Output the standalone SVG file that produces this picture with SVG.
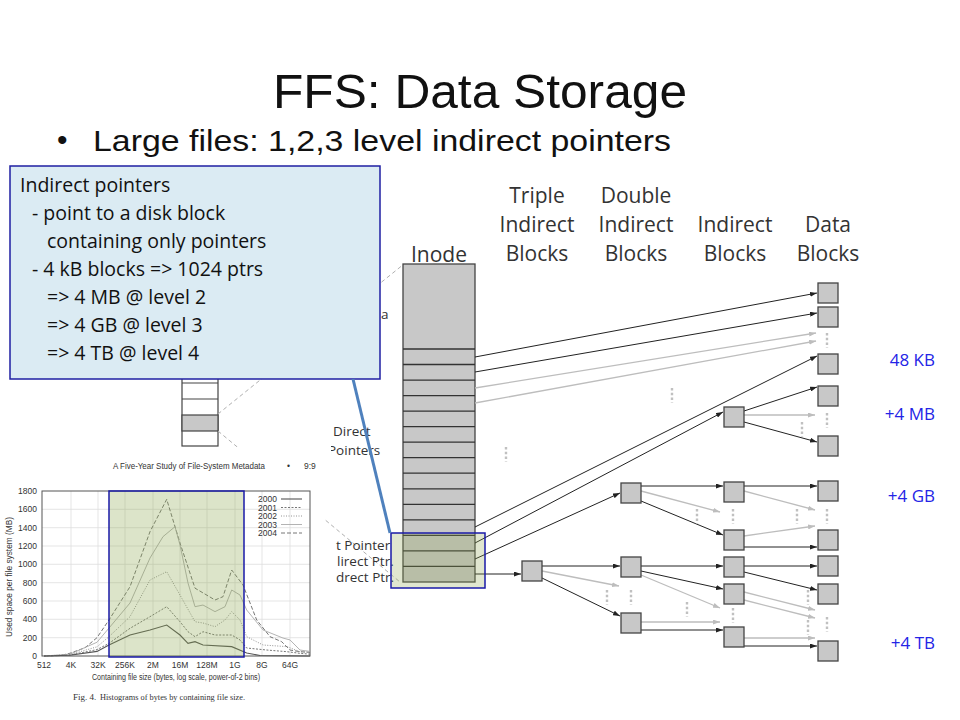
<svg xmlns="http://www.w3.org/2000/svg" width="960" height="720" viewBox="0 0 960 720">
<defs>
<style>
.blk{fill:#c8c8c8;stroke:#444;stroke-width:1.3}
.ab{stroke:#222;stroke-width:1;fill:none;marker-end:url(#mb)}
.ag{stroke:#bdbdbd;stroke-width:1.3;fill:none;marker-end:url(#mg)}
.dots{stroke:#c0c0c0;stroke-width:2.4;stroke-dasharray:2.4 2.4;fill:none}
.hdr{font-family:"Open Sans","DejaVu Sans",sans-serif;font-size:21px;fill:#333;text-anchor:middle}
.lbl{font-family:"Open Sans","DejaVu Sans",sans-serif;font-size:13.5px;fill:#333}
.co{font-family:"Open Sans","DejaVu Sans",sans-serif;font-size:19.5px;fill:#111}
.sz{font-family:"Open Sans","DejaVu Sans",sans-serif;font-size:17px;fill:#2424e6;text-anchor:end}
.ct{font-family:"Liberation Sans",Arial,sans-serif;font-size:8.5px;fill:#333}
.grid{stroke:#dedede;stroke-width:0.8}
.dash{stroke:#b0b0b0;stroke-width:1;stroke-dasharray:4 3;fill:none}
.cv{fill:none;vector-effect:non-scaling-stroke}
</style>
<marker id="mb" viewBox="0 0 7 5" refX="7" refY="2.5" markerWidth="7" markerHeight="5" orient="auto" markerUnits="userSpaceOnUse"><path d="M0,0 L7,2.5 L0,5 z" fill="#222"/></marker>
<marker id="mg" viewBox="0 0 7 5" refX="7" refY="2.5" markerWidth="7" markerHeight="5" orient="auto" markerUnits="userSpaceOnUse"><path d="M0,0 L7,2.5 L0,5 z" fill="#bdbdbd"/></marker>
<clipPath id="lc"><rect x="331" y="280" width="80" height="320"/></clipPath>
</defs>
<rect width="960" height="720" fill="#fff"/>

<g id="title">
<text x="480" y="108" font-family="Liberation Sans, Arial, sans-serif" font-size="48" fill="#111" text-anchor="middle" textLength="414" lengthAdjust="spacingAndGlyphs">FFS: Data Storage</text>
<text x="57" y="150" font-family="Liberation Sans, Arial, sans-serif" font-size="30" fill="#111">•</text>
<text x="93" y="151" font-family="Liberation Sans, Arial, sans-serif" font-size="30" fill="#111" textLength="578" lengthAdjust="spacingAndGlyphs">Large files: 1,2,3 level indirect pointers</text>
</g>

<g id="small-inode">
<rect x="182" y="360" width="36" height="86" fill="#fff" stroke="#444" stroke-width="1.2"/>
<rect x="182" y="415" width="36" height="16" fill="#c8c8c8" stroke="#444" stroke-width="1.2"/>
<path d="M182,383 H218 M182,399 H218" stroke="#444" stroke-width="1.2"/>
<path class="dash" d="M218,414 L404,264"/>
<path class="dash" d="M218,431 L400,582"/>
</g>

<g id="chart">
<rect x="0" y="447" width="325" height="260" fill="#fff"/>
<text class="ct" x="113" y="469" font-size="9.5" textLength="152" lengthAdjust="spacingAndGlyphs">A Five-Year Study of File-System Metadata</text>
<text class="ct" x="287" y="469" font-size="9.5">•</text>
<text class="ct" x="304" y="469" font-size="9.5">9:9</text>
<rect x="42" y="491" width="268" height="165" fill="#fff"/>
<g class="grid">
<path d="M71,491 V656 M98,491 V656 M125,491 V656 M153,491 V656 M180,491 V656 M207,491 V656 M235,491 V656 M262,491 V656 M290,491 V656"/>
<path d="M42,637.7 H310 M42,619.3 H310 M42,601 H310 M42,582.7 H310 M42,564.3 H310 M42,546 H310 M42,527.7 H310 M42,509.3 H310"/>
</g>
<rect x="42" y="491" width="268" height="165" fill="none" stroke="#555" stroke-width="1"/>
<g class="ct" text-anchor="end">
<text x="37" y="659">0</text><text x="37" y="641">200</text><text x="37" y="622">400</text><text x="37" y="604">600</text><text x="37" y="586">800</text><text x="37" y="567">1000</text><text x="37" y="549">1200</text><text x="37" y="531">1400</text><text x="37" y="512">1600</text><text x="37" y="494">1800</text>
</g>
<g class="ct" text-anchor="middle">
<text x="44" y="668">512</text><text x="71" y="668">4K</text><text x="98" y="668">32K</text><text x="125" y="668">256K</text><text x="153" y="668">2M</text><text x="180" y="668">16M</text><text x="207" y="668">128M</text><text x="235" y="668">1G</text><text x="262" y="668">8G</text><text x="290" y="668">64G</text>
</g>
<text class="ct" x="176" y="680" text-anchor="middle" font-size="9" textLength="168" lengthAdjust="spacingAndGlyphs">Containing file size (bytes, log scale, power-of-2 bins)</text>
<text class="ct" transform="translate(12,577) rotate(-90)" text-anchor="middle" textLength="120" lengthAdjust="spacingAndGlyphs">Used space per file system (MB)</text>
<text x="73" y="700" font-family="Liberation Serif, Times New Roman, serif" font-size="9" fill="#333">Fig. 4.</text>
<text x="100" y="700" font-family="Liberation Serif, Times New Roman, serif" font-size="9" fill="#333" textLength="145" lengthAdjust="spacingAndGlyphs">Histograms of bytes by containing file size.</text>
<g transform="translate(0,656) scale(1,-0.09167)">
<polyline class="cv" stroke="#666" stroke-width="0.9" stroke-dasharray="4 2" points="44,0 60,5 70,30 85,90 97,200 109,393 130,756 150,1356 166.7,1709 180,1232 195,740 215,611 223,647 231.7,938 243,775 256.7,393 270,211 281.7,156 290,65 300,47 310,40"/>
<polyline class="cv" stroke="#aaa" stroke-width="0.9" points="44,0 70,20 97,150 109,305 130,578 150,1069 163,1302 175,1411 180,1211 188,796 195,538 203,556 215,484 225,538 231.7,720 240,665 246.7,502 263,284 283,196 290,175 300,65 310,50"/>
<polyline class="cv" stroke="#888" stroke-width="0.9" stroke-dasharray="1 1.5" points="44,0 70,15 97,100 109,211 130,429 150,829 166.7,920 180,665 195,374 203,360 215,320 225,393 231.7,484 240,393 246.7,211 263,120 287,102 300,47 310,40"/>
<polyline class="cv" stroke="#666" stroke-width="0.9" stroke-dasharray="2 1.5" points="44,0 70,10 97,70 109,138 130,302 150,429 166.7,538 180,374 188,265 195,211 203,265 215,229 231.7,229 240,175 246.7,87 267,65 287,47 300,29 310,20"/>
<polyline class="cv" stroke="#555" stroke-width="1.1" points="44,0 70,8 97,50 109,120 130,229 150,284 166.7,338 180,229 188,138 195,156 203,120 231.7,102 246.7,33 260,5 310,0"/>
</g>
<g class="ct" text-anchor="end" font-size="8">
<text x="277" y="502">2000</text><text x="277" y="510.5">2001</text><text x="277" y="519">2002</text><text x="277" y="527.5">2003</text><text x="277" y="536">2004</text>
</g>
<path d="M281,499 H302" stroke="#555" stroke-width="1.1"/>
<path d="M281,507.5 H302" stroke="#666" stroke-width="0.9" stroke-dasharray="2 1.5"/>
<path d="M281,516 H302" stroke="#888" stroke-width="0.9" stroke-dasharray="1 1.5"/>
<path d="M281,524.5 H302" stroke="#aaa" stroke-width="0.9"/>
<path d="M281,533 H302" stroke="#666" stroke-width="0.9" stroke-dasharray="4 2"/>
<rect x="109" y="491" width="135" height="166" fill="#8ca44c" fill-opacity="0.3" stroke="#1a1aa8" stroke-width="1.5"/>
</g>

<g id="side-labels" clip-path="url(#lc)">
<text class="lbl" x="381" y="319">a</text>
<text class="lbl" x="333" y="436">Direct</text>
<text class="lbl" x="328" y="455">Pointers</text>
<text class="lbl" x="336" y="550">t Pointer</text>
<text class="lbl" x="337" y="566">lirect Ptr.</text>
<text class="lbl" x="336" y="582">drect Ptr.</text>
</g>

<g id="callout">
<rect x="10" y="166" width="370" height="213" fill="#dbebf3" stroke="#1f1fa3" stroke-width="1.5"/>
<text class="co" x="20" y="192">Indirect pointers</text>
<text class="co" x="32" y="220">- point to a disk block</text>
<text class="co" x="47" y="248">containing only pointers</text>
<text class="co" x="32" y="276">- 4 kB blocks =&gt; 1024 ptrs</text>
<text class="co" x="47" y="304">=&gt; 4 MB @ level 2</text>
<text class="co" x="47" y="332">=&gt; 4 GB @ level 3</text>
<text class="co" x="47" y="360">=&gt; 4 TB @ level 4</text>
</g>

<g id="headers">
<text class="hdr" x="439" y="262">Inode</text>
<text class="hdr" x="537" y="203">Triple</text>
<text class="hdr" x="537" y="232">Indirect</text>
<text class="hdr" x="537" y="261">Blocks</text>
<text class="hdr" x="636" y="203">Double</text>
<text class="hdr" x="636" y="232">Indirect</text>
<text class="hdr" x="636" y="261">Blocks</text>
<text class="hdr" x="735" y="232">Indirect</text>
<text class="hdr" x="735" y="261">Blocks</text>
<text class="hdr" x="828" y="232">Data</text>
<text class="hdr" x="828" y="261">Blocks</text>
</g>

<g id="inode">
<rect class="blk" x="403" y="264" width="72" height="318"/>
<path d="M403,349 H475 M403,364.5 H475 M403,380.1 H475 M403,395.6 H475 M403,411.1 H475 M403,426.7 H475 M403,442.2 H475 M403,457.7 H475 M403,473.2 H475 M403,488.8 H475 M403,504.3 H475 M403,519.8 H475 M403,535.4 H475 M403,550.9 H475 M403,566.4 H475" stroke="#333" stroke-width="1.3"/>
</g>

<g id="connectors">
<path class="ab" d="M475,357 L817,293"/>
<path class="ab" d="M475,372 L817,313"/>
<path class="ag" d="M475,388 L816,333"/>
<path class="ag" d="M475,403 L816,341"/>
<path class="ab" d="M475,527 L817,356"/>
<path class="ab" d="M475,543 L723,412"/>
<path class="ab" d="M475,559 L620,493"/>
<path class="ab" d="M475,574 L521,574"/>
<path class="ab" d="M542,566 L620,566"/>
<path class="ag" d="M542,571 L619,586"/>
<path class="ab" d="M542,578 L620,616"/>
<path class="ab" d="M641,486 L723,486"/>
<path class="ag" d="M641,491 L720,512"/>
<path class="ab" d="M641,501 L723,535"/>
<path class="ab" d="M641,566 L723,566"/>
<path class="ab" d="M641,571 L723,589"/>
<path class="ag" d="M641,575 L720,608"/>
<path class="ag" d="M641,622 L720,622"/>
<path class="ab" d="M641,630 L723,630"/>
<path class="ab" d="M744,411 L817,387"/>
<path class="ag" d="M744,415 L815,415"/>
<path class="ab" d="M744,422 L817,442"/>
<path class="ab" d="M744,486 L817,486"/>
<path class="ag" d="M744,491 L815,510"/>
<path class="ag" d="M744,536 L815,526"/>
<path class="ab" d="M744,547 L817,547"/>
<path class="ab" d="M744,566 L817,566"/>
<path class="ab" d="M744,572 L817,590"/>
<path class="ag" d="M744,592 L815,610"/>
<path class="ag" d="M744,600 L815,618"/>
<path class="ag" d="M744,638 L815,638"/>
<path class="ab" d="M744,646 L817,646"/>
<path class="dots" d="M827,333 V348 M827,413 V428 M802,422 V437 M672,388 V403 M506,447 V462 M697,509 V524 M733,509 V524 M797,509 V524 M827,509 V524 M607,590 V605 M631,590 V605 M687,602 V617 M733,608 V623 M808,590 V605 M808,620 V635 M827,617 V632"/>
</g>

<g id="triple-block"><rect class="blk" x="522" y="561" width="20" height="20"/></g>
<g id="double-blocks">
<rect class="blk" x="621" y="483" width="20" height="20"/>
<rect class="blk" x="621" y="557" width="20" height="20"/>
<rect class="blk" x="621" y="613" width="20" height="20"/>
</g>
<g id="indirect-blocks">
<rect class="blk" x="724" y="407" width="20" height="20"/>
<rect class="blk" x="724" y="482" width="20" height="20"/>
<rect class="blk" x="724" y="530" width="20" height="20"/>
<rect class="blk" x="724" y="557" width="20" height="20"/>
<rect class="blk" x="724" y="584" width="20" height="20"/>
<rect class="blk" x="724" y="627" width="20" height="20"/>
</g>
<g id="data-blocks">
<rect class="blk" x="818" y="283" width="20" height="20"/>
<rect class="blk" x="818" y="307" width="20" height="20"/>
<rect class="blk" x="818" y="354" width="20" height="20"/>
<rect class="blk" x="818" y="386" width="20" height="20"/>
<rect class="blk" x="818" y="436" width="20" height="20"/>
<rect class="blk" x="818" y="481" width="20" height="20"/>
<rect class="blk" x="818" y="530" width="20" height="20"/>
<rect class="blk" x="818" y="556" width="20" height="20"/>
<rect class="blk" x="818" y="584" width="20" height="20"/>
<rect class="blk" x="818" y="641" width="20" height="20"/>
</g>

<g id="highlight">
<rect x="391" y="533" width="94" height="55" fill="#8ca44c" fill-opacity="0.27" stroke="#1a1aa8" stroke-width="1.5"/>
<path d="M353,379 L390,533" stroke="#4f81bd" stroke-width="3" fill="none"/>
</g>

<g id="size-labels">
<text class="sz" x="935" y="366">48 KB</text>
<text class="sz" x="935" y="420">+4 MB</text>
<text class="sz" x="935" y="502">+4 GB</text>
<text class="sz" x="935" y="649">+4 TB</text>
</g>
</svg>
